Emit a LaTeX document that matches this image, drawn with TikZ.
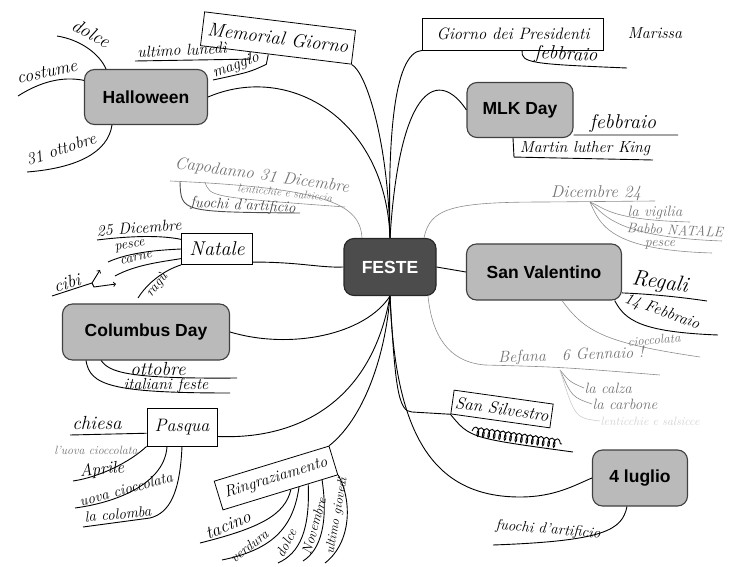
\documentclass[tikz,border=0pt]{standalone}
\usepackage{fontspec}
\newfontfamily\boxfont{Liberation Sans}
\usetikzlibrary{calc,decorations.pathmorphing}

\tikzset{
  bigbox/.style={draw=black!75, line width=1.1pt, rounded corners=10pt, fill=black!27, inner sep=2pt,
    font=\boxfont\bfseries\fontsize{17.5}{20}\selectfont},
  handbox/.style={draw, line width=0.8pt},
  hand/.style={inner sep=0.5pt, font=\itshape\fontsize{#1}{#1}\selectfont},
  hand/.default=17,
  pale/.style={inner sep=0.5pt, text=black!55, font=\itshape\fontsize{#1}{#1}\selectfont},
  pale/.default=14,
  branch/.style={line width=0.9pt},
  twig/.style={line width=0.6pt, draw=black!45},
}

\begin{document}
\begin{tikzpicture}[x=1pt,y=1pt,yscale=-1]
\useasboundingbox (0,0) rectangle (732,567);

% Boxes
\node (feste) at (390,267) [bigbox, fill=black!70, draw=black!85, text=white, minimum width=92pt, minimum height=57pt] {FESTE};
\node (halloween) at (146,97) [bigbox, minimum width=123pt, minimum height=55pt] {Halloween};
\node (mlk) at (520,110) [bigbox, minimum width=106pt, minimum height=55pt] {MLK Day};
\node (valentino) at (544,272) [bigbox, minimum width=155pt, minimum height=56pt] {San Valentino};
\node (columbus) at (146,332) [bigbox, minimum width=167pt, minimum height=56pt] {Columbus Day};
\node (luglio) at (640,478) [bigbox, minimum width=95pt, minimum height=56pt] {4 luglio};

% Hand boxes
\node (memoriale) at (278,38) [handbox, hand=19, rotate=-7, minimum width=152pt, minimum height=34pt] {Memorial Giorno};
\node (presidenti) at (513,34) [handbox, hand=16.5, minimum width=181pt, minimum height=32pt] {Giorno dei Presidenti};
\node (natale) at (217,249) [handbox, hand=20, minimum width=71pt, minimum height=31pt] {Natale};
\node (pasqua) at (182,427) [handbox, hand=18, minimum width=70pt, minimum height=38pt] {Pasqua};
\node (silvestro) at (502,409) [handbox, hand=17, rotate=-8, minimum width=100pt, minimum height=24pt] {San Silvestro};
\node (ringr) at (276,478) [handbox, hand=16, rotate=17, minimum width=120pt, minimum height=30pt] {Ringraziamento};
\node (marissa) at (655,33) [hand=16] {Marissa};

%Curve Lines (top)
\draw[branch] (halloween.east) .. controls (290,62) and (386,120) .. (feste.north);
\draw[branch] (memoriale.south east) .. controls (366,72) and (388,140) .. (feste.north);
\draw[branch] (presidenti.south west) .. controls (392,52) and (388,150) .. (feste.north);
\draw[branch] (mlk.west) .. controls (440,70) and (400,80) .. (feste.north);
%Straight Lines
\draw[branch] (natale.-20) .. controls (300,262) and (320,268) .. (feste.west);
\draw[branch] (feste.east) -- (valentino.west);
%Curve Lines (bottom)
\draw[branch] (columbus.east) .. controls (290,350) and (365,335) .. (feste.south);
\draw[branch] (pasqua.-15) .. controls (300,440) and (372,400) .. (feste.south);
\draw[branch] (ringr.north east) .. controls (362,420) and (385,360) .. (feste.south);
\coordinate (silvL) at (412,412);
\draw[branch] (feste.south) .. controls (395,385) and (398,412) .. (silvL) -- (silvestro.south west);
\coordinate (lugB) at (520,497);
\draw[branch] (feste.south) .. controls (395,430) and (430,497) .. (lugB) .. controls (555,497) and (575,485) .. (luglio.west);

% Halloween
\coordinate (dolceH) at (57,36);
\coordinate (costumeH) at (18,96);
\coordinate (ottobreH) at (27,172);
\draw[branch] ([xshift=-40pt]halloween.north) .. controls (100,55) and (82,40) .. (dolceH);
\draw[branch] (halloween.165) .. controls (62,76) and (40,82) .. (costumeH);
\draw[branch] ([xshift=-34pt]halloween.south) .. controls (108,152) and (78,168) .. (ottobreH);
\node (tdolceH) at (91,33) [hand=19, rotate=-28] {dolce};
\node (tcostume) at (47,72) [hand=18, rotate=12] {costume};
\node (tottobreH) at (61,149) [hand=17, rotate=18] {31 ottobre};

% Memorial Giorno
\coordinate (lunediM) at (135,61);
\coordinate (maggioM) at (213,80);
\draw[branch] ($(memoriale.south west)!0.33!(memoriale.south east)$) -- ++(0,7) -- (lunediM);
\draw[branch] ($(memoriale.south west)!0.45!(memoriale.south east)$) -- ++(-2,10) .. controls (250,72) .. (maggioM);
\node (tlunedi) at (182,50) [hand=16, rotate=3] {ultimo lunedì};
\node (tmaggio) at (236,66) [hand=16, rotate=20] {maggio};

% Presidenti
\coordinate (febP) at (627,68);
\draw[branch] ($(presidenti.south west)!0.55!(presidenti.south east)$) .. controls (521,63) and (530,64) .. (febP);
\node (tfebP) at (566,55) [hand=19, rotate=-3] {febbraio};

% MLK Day
\coordinate (febM) at (678,135);
\coordinate (kingM) at (653,160);
\draw[branch] (mlk.-25) -- (febM);
\draw[branch] ([xshift=-7pt]mlk.south) -- ++(1,19) -- (kingM);
\node (tfebM) at (623,124) [hand=20] {febbraio};
\node (tking) at (585,149) [hand=16] {Martin luther King};

% Capodanno
\coordinate (capA) at (170,181);
\coordinate (capB) at (205,182);
\coordinate (capC) at (180,182);
\coordinate (lentC) at (345,207);
\coordinate (fuochiC) at (300,213);
\draw[twig] ([xshift=-28pt]feste.north) .. controls (360,205) and (330,188) .. (capA);
\draw[twig] (capB) .. controls (210,197) .. (lentC);
\draw[branch, draw=black!70] (capC) .. controls (181,212) .. (fuochiC);
\node (tcapo) at (262,176) [pale=17, rotate=-8] {Capodanno 31 Dicembre};
\node (tlent) at (285,193) [pale=11, rotate=-6] {lenticchie e salsiccia};
\node (tfuochiC) at (243,206) [hand=15, rotate=-3, text=black!75] {fuochi d'artificio};

% Natale
\coordinate (dicN) at (97,240);
\coordinate (pesceN) at (108,262);
\coordinate (carneN) at (115,276);
\coordinate (raguN) at (138,298);
\draw[branch] (natale.165) .. controls (160,235) and (130,236) .. (dicN);
\draw[branch] (natale.west) .. controls (160,250) and (130,252) .. (pesceN);
\draw[branch] (natale.195) .. controls (160,262) and (135,265) .. (carneN);
\draw[branch] (natale.south west) .. controls (165,270) and (148,282) .. (raguN);
\node (tdicN) at (139,228) [hand=16, rotate=4] {25 Dicembre};
\node (tpesceN) at (130,246) [hand=14, rotate=10] {pesce};
\node (tcarneN) at (136,258) [hand=14, rotate=12] {carne};
\node (tragu) at (157,285) [hand=14, rotate=50] {ragù};
\coordinate (cibiA) at (52,296);
\coordinate (cibiB) at (92,283);
\coordinate (cibiUp) at (100,270);
\coordinate (cibiRt) at (116,284);
\draw[branch] (cibiA) -- (cibiB);
\draw[branch, ->] (cibiB) -- (cibiUp);
\draw[branch, ->] (cibiB) -- ++(2,4) -- (cibiRt);
\node (tcibi) at (67,283) [hand=18, rotate=15] {cibi};

% Dicembre 24
\coordinate (dicA) at (545,202);
\coordinate (dicB) at (655,201);
\coordinate (dicC) at (590,202);
\coordinate (vigiliaD) at (690,222);
\coordinate (babboD) at (722,241);
\coordinate (pesceD) at (712,253);
\draw[twig] ([xshift=34pt]feste.north) .. controls (430,208) and (452,202) .. (dicA) -- (dicB);
\draw[twig] (dicC) .. controls (605,208) and (610,220) .. (vigiliaD);
\draw[twig] (dicC) .. controls (605,215) and (615,237) .. (babboD);
\draw[twig] (dicC) .. controls (600,225) and (610,250) .. (pesceD);
\node (tdic24) at (596,193) [pale=17] {Dicembre 24};
\node (tvigilia) at (655,213) [pale=15] {la vigilia};
\node (tbabbo) at (675,230) [pale=14, rotate=-3] {Babbo NATALE};
\node (tpesceD) at (660,245) [pale=14] {pesce};

% San Valentino
\coordinate (regaliV) at (707,301);
\coordinate (febV) at (718,335);
\coordinate (ciocV) at (700,357);
\draw[branch] (valentino.-15) .. controls (650,294) and (680,297) .. (regaliV);
\draw[branch] (valentino.-22) .. controls (625,320) and (640,332) .. (febV);
\draw[twig] ([xshift=18pt]valentino.south) .. controls (585,332) and (605,343) .. (ciocV);
\node (tregali) at (660,283) [hand=22, rotate=-8] {Regali};
\node (tfebV) at (662,312) [hand=16, rotate=-20] {14 Febbraio};
\node (tcioc) at (654,340) [pale=13, rotate=5] {cioccolata};

% Befana
\coordinate (befA) at (485,365);
\coordinate (befB) at (660,375);
\coordinate (befC) at (560,370);
\coordinate (calzaB) at (584,388);
\coordinate (carboneB) at (592,404);
\coordinate (ultB) at (600,421);
\draw[twig] ([xshift=38pt]feste.south) .. controls (432,335) and (448,362) .. (befA) .. controls (560,367) .. (befB);
\draw[twig] (befC) .. controls (570,382) .. (calzaB);
\draw[twig] (befC) .. controls (572,397) .. (carboneB);
\draw[twig, draw=black!20] (befC) .. controls (575,418) .. (ultB);
\node (tbefana) at (571,356) [pale=16, rotate=2] {Befana\quad 6 Gennaio !};
\node (tcalza) at (calzaB) [pale=15, anchor=west] {la calza};
\node (tcarbone) at (carboneB) [pale=15, anchor=west] {la carbone};
\node (tfaint) at (ultB) [pale=12, text=black!18, anchor=west] {lenticchie e salsicce};

% Columbus Day
\coordinate (ottobreC) at (237,378);
\coordinate (italianiC) at (230,393);
\draw[branch] ([xshift=-45pt]columbus.south) .. controls (110,372) and (125,379) .. (ottobreC);
\draw[branch] ([xshift=-60pt]columbus.south) .. controls (90,385) and (110,393) .. (italianiC);
\node (tottobreC) at (158,369) [hand=19] {ottobre};
\node (titaliani) at (166,385) [hand=16] {italiani feste};

% Pasqua
\coordinate (chiesaP) at (70,435);
\coordinate (aprileP) at (73,481);
\coordinate (uovaP) at (75,508);
\coordinate (colombaP) at (83,527);
\draw[branch] (pasqua.190) -- (chiesaP);
\draw[branch] (pasqua.south west) .. controls (130,462) and (100,477) .. (aprileP);
\draw[branch] ([xshift=-15pt]pasqua.south) .. controls (165,482) and (120,502) .. (uovaP);
\draw[branch] (pasqua.south) .. controls (180,492) and (170,513) .. (150,518) -- (colombaP);
\node (tchiesa) at (97,423) [hand=19] {chiesa};
\node (tuovaC) at (96,450) [pale=12] {l'uova cioccolata};
\node (taprile) at (102,470) [hand=17, rotate=5] {Aprile};
\node (tuova) at (126,489) [hand=15, rotate=15] {uova cioccolata};
\node (tcolomba) at (118,514) [hand=15, rotate=5] {la colomba};

% San Silvestro
\coordinate (silvU) at (573,452);
\coordinate (scrA) at (472,431);
\coordinate (scrB) at (562,444);
\draw[branch] (silvestro.south west) .. controls (470,438) .. (silvU);
\draw[branch, decorate, decoration={coil, aspect=0.45, segment length=5.5pt, amplitude=4.5pt}] (scrA) -- (scrB);

% 4 luglio
\coordinate (fuochiL) at (493,545);
\draw[branch] ([xshift=-13pt]luglio.south) .. controls (622,530) and (605,541) .. (fuochiL);
\node (tfuochiL) at (548,530) [hand=15, rotate=-5] {fuochi d'artificio};

% Ringraziamento
\coordinate (tacinoR) at (200,543);
\coordinate (verduraR) at (222,560);
\coordinate (dolceR) at (278,563);
\coordinate (novembreR) at (303,561);
\coordinate (giovediR) at (325,563);
\draw[branch] ($(ringr.south west)!0.59!(ringr.south east)$) .. controls (285,515) and (260,528) .. (tacinoR);
\draw[branch] ($(ringr.south west)!0.66!(ringr.south east)$) .. controls (293,530) and (270,550) .. (verduraR);
\draw[branch] ($(ringr.south west)!0.74!(ringr.south east)$) .. controls (310,530) and (300,553) .. (dolceR);
\draw[branch] ($(ringr.south west)!0.86!(ringr.south east)$) .. controls (328,520) and (322,549) .. (novembreR);
\draw[branch] (ringr.south east) .. controls (352,500) and (352,542) .. (giovediR);
\node (ttacino) at (228,525) [hand=18, rotate=22] {tacino};
\node (tverdura) at (249,546) [hand=14, rotate=38] {verdura};
\node (tdolceR) at (286,543) [hand=14, rotate=62] {dolce};
\node (tnovembre) at (314,526) [hand=14, rotate=74] {Novembre};
\node (tgiovedi) at (337,516) [hand=13, rotate=80] {ultimo giovedì};

\end{tikzpicture}
\end{document}
